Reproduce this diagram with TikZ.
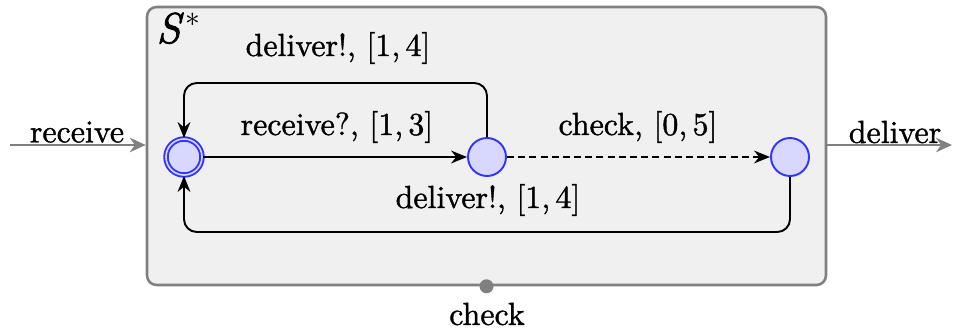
\documentclass[tikz,border=0pt]{standalone}
\usetikzlibrary{arrows.meta}
\usepackage{fontspec}
\setmainfont{Latin Modern Roman}[RawFeature={embolden=1.2}]
\definecolor{boxfill}{HTML}{F0F0F0}
\definecolor{boxdraw}{HTML}{808080}
\definecolor{stfill}{HTML}{D8D8FF}
\definecolor{stdraw}{HTML}{3333FF}
\begin{document}
\begin{tikzpicture}[x=0.011cm,y=-0.011cm,
  statebox/.style={circle,draw=stdraw,fill=stfill,line width=0.6pt,minimum size=38*0.011cm,inner sep=0pt},
  initbox/.style={statebox,double=stfill,double distance=0.5pt,minimum size=36*0.011cm},
  trans/.style={draw=black,line width=0.6pt,-{Stealth[length=5pt,width=4pt]}},
  iface/.style={draw=boxdraw,line width=0.8pt,-{Stealth[length=5pt,width=4.5pt]}},
  lbl/.style={inner sep=0pt,font=\normalsize}]
\useasboundingbox (0,0) rectangle (961,330);
\node[draw=boxdraw,fill=boxfill,line width=0.8pt,rounded corners=3pt,minimum width=679*0.011cm,minimum height=278*0.011cm,inner sep=0pt] (sys) at (486.5,146) {};
\node[inner sep=0pt,font=\fontsize{13.5}{16}\selectfont,anchor=base west] (title) at (156,43) {{\itshape\addfontfeature{RawFeature={embolden=2}}S\/}\kern0.5pt$^{*}$};
\node[initbox] (i) at (184,157) {};
\node[statebox] (m) at (487,157) {};
\node[statebox] (r) at (790,157) {};
\coordinate (tl) at (184,83);
\coordinate (bl) at (184,232);
\draw[trans,rounded corners=4pt] (m.north) |- (tl) -- (i.north);
\draw[trans] (i) -- (m);
\draw[trans,dash pattern=on 2.2pt off 1.3pt] (m) -- (r);
\draw[trans,rounded corners=4pt] (r.south) |- (bl) -- (i.south);
\node[lbl] (l1) at (338,48) {deliver!, [1,\,4]};
\node[lbl] (l2) at (337,127) {receive?, [1,\,3]};
\node[lbl] (l3) at (638,127) {check, [0,\,5]};
\node[lbl] (l4) at (488,200) {deliver!, [1,\,4]};
\coordinate (inA) at (10,145);
\coordinate (outB) at (952,145);
\draw[iface] (inA) -- (inA -| sys.west);
\draw[iface] (outB -| sys.east) -- (outB);
\node[lbl] (rl) at (77,132) {receive};
\node[lbl] (dl) at (895,132) {deliver};
\node[circle,fill=boxdraw,inner sep=0pt,minimum size=14*0.011cm] (dot) at (sys.south) {};
\node[lbl] (cl) at (487,314) {check};
\end{tikzpicture}
\end{document}
